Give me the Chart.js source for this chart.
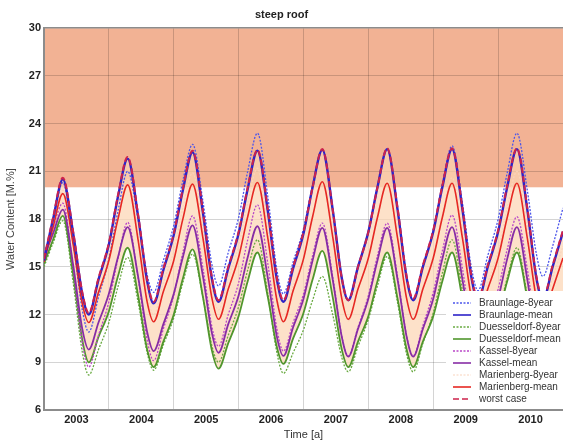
<!DOCTYPE html>
<html>
<head>
<meta charset="utf-8">
<script src="https://cdn.jsdelivr.net/npm/chart.js@4.4.1/dist/chart.umd.min.js"></script>
<style>
  html, body { margin: 0; padding: 0; background: #fff; }
</style>
</head>
<body>
<canvas id="myChart" width="563" height="444"></canvas>
<script>
// time axis in decimal years
var times = [
  2003.00, 2003.14, 2003.29, 2003.45, 2003.59, 2003.69, 2003.84,
  2004.00, 2004.14, 2004.29, 2004.45, 2004.59, 2004.69, 2004.84,
  2005.00, 2005.14, 2005.29, 2005.45, 2005.59, 2005.69, 2005.84,
  2006.00, 2006.14, 2006.29, 2006.45, 2006.59, 2006.69, 2006.84,
  2007.00, 2007.14, 2007.29, 2007.45, 2007.59, 2007.69, 2007.84,
  2008.00, 2008.14, 2008.29, 2008.45, 2008.59, 2008.69, 2008.84,
  2009.00, 2009.14, 2009.29, 2009.45, 2009.59, 2009.69, 2009.84,
  2010.00, 2010.14, 2010.29, 2010.45, 2010.59, 2010.69, 2010.84,
  2011.00
];

var braunlage8 = [
  15.5, 17.9, 20.3, 16.5, 12.3, 10.9, 13.1,
  15.5, 18.5, 21.0, 18.0, 14.5, 13.4, 15.4,
  17.6, 20.4, 22.7, 19.1, 15.1, 13.8, 15.9,
  18.1, 21.0, 23.4, 19.4, 14.8, 13.3, 15.3,
  17.4, 20.1, 22.35, 18.6, 14.3, 12.9, 15.0,
  17.2, 20.0, 22.4, 18.6, 14.3, 12.9, 15.0,
  17.3, 20.2, 22.6, 19.0, 14.9, 13.5, 15.7,
  18.0, 20.9, 23.4, 19.8, 15.8, 14.4, 16.3,
  18.7
];
var braunlageMean = [
  15.4, 18.0, 20.5, 17.1, 13.3, 12.0, 14.2,
  16.4, 19.4, 21.8, 18.2, 14.1, 12.7, 14.8,
  17.0, 19.8, 22.2, 18.4, 14.2, 12.8, 14.9,
  17.1, 19.9, 22.3, 18.5, 14.2, 12.8, 14.9,
  17.1, 20.0, 22.35, 18.6, 14.3, 12.9, 15.0,
  17.2, 20.0, 22.4, 18.6, 14.3, 12.9, 15.0,
  17.2, 20.0, 22.4, 18.6, 14.3, 12.9, 15.0,
  17.2, 20.0, 22.4, 18.6, 14.3, 12.9, 15.0,
  17.2
];
var duesseldorf8 = [
  15.0, 16.5, 17.9, 14.0, 9.65, 8.2, 9.8,
  11.5, 13.75, 15.6, 12.8, 9.6, 8.5, 10.1,
  11.8, 14.0, 15.8, 13.1, 10.0, 9.0, 10.7,
  12.5, 14.8, 16.7, 13.3, 9.6, 8.3, 9.6,
  11.05, 12.9, 14.4, 12.0, 9.3, 8.4, 10.0,
  11.7, 13.8, 15.65, 12.75, 9.5, 8.4, 10.2,
  12.1, 14.6, 16.7, 13.5, 9.8, 8.6, 10.3,
  12.0, 14.3, 16.2, 13.2, 9.9, 8.8, 10.4,
  12.0
];
var duesseldorfMean = [
  15.2, 16.7, 18.2, 14.5, 10.4, 9.0, 10.6,
  12.2, 14.4, 16.2, 13.2, 9.8, 8.7, 10.3,
  12.0, 14.25, 16.1, 13.1, 9.7, 8.6, 10.2,
  11.9, 14.1, 15.9, 13.1, 9.95, 8.9, 10.5,
  12.1, 14.2, 16.0, 13.1, 9.8, 8.7, 10.3,
  11.9, 14.1, 15.9, 13.0, 9.8, 8.7, 10.3,
  11.9, 14.1, 15.9, 13.0, 9.8, 8.7, 10.3,
  11.9, 14.1, 15.9, 13.0, 9.8, 8.7, 10.3,
  11.9
];
var kassel8 = [
  15.9, 17.5, 19.0, 14.9, 10.2, 8.7, 10.7,
  12.8, 15.5, 17.8, 14.3, 10.4, 9.1, 11.1,
  13.2, 15.9, 18.2, 14.9, 11.2, 10.0, 12.0,
  14.0, 16.7, 18.9, 15.2, 11.1, 9.7, 11.5,
  13.3, 15.7, 17.75, 14.4, 10.65, 9.4, 11.2,
  13.2, 15.7, 17.75, 14.4, 10.65, 9.4, 11.3,
  13.4, 16.0, 18.25, 14.9, 11.1, 9.8, 11.6,
  13.6, 16.1, 18.15, 14.85, 11.1, 9.9, 11.7,
  13.5
];
var kasselMean = [
  15.6, 17.1, 18.6, 15.1, 11.1, 9.8, 11.5,
  13.3, 15.6, 17.5, 14.4, 10.9, 9.7, 11.4,
  13.3, 15.6, 17.6, 14.4, 10.8, 9.6, 11.4,
  13.2, 15.6, 17.55, 14.3, 10.6, 9.4, 11.2,
  13.0, 15.4, 17.45, 14.2, 10.6, 9.35, 11.1,
  13.0, 15.4, 17.45, 14.2, 10.6, 9.35, 11.1,
  13.0, 15.5, 17.5, 14.2, 10.6, 9.35, 11.1,
  13.0, 15.5, 17.5, 14.2, 10.6, 9.35, 11.1,
  13.0
];
var marienberg8 = [
  15.3, 17.6, 19.8, 16.5, 12.5, 11.2, 13.2,
  15.4, 18.2, 20.5, 17.1, 13.3, 12.0, 14.0,
  16.0, 18.7, 20.9, 17.5, 13.6, 12.3, 14.3,
  16.3, 19.0, 21.2, 17.3, 13.3, 11.9, 13.8,
  15.6, 18.1, 20.2, 16.8, 12.9, 11.6, 13.6,
  15.6, 18.2, 20.4, 16.9, 13.0, 11.7, 13.7,
  15.7, 18.3, 20.6, 17.2, 13.3, 12.0, 14.0,
  16.0, 18.7, 21.0, 17.6, 13.8, 12.5, 14.3,
  16.3
];
var marienbergMean = [
  15.3, 17.5, 19.6, 16.4, 12.7, 11.5, 13.4,
  15.4, 18.0, 20.15, 16.7, 12.8, 11.55, 13.45,
  15.4, 18.0, 20.2, 16.8, 13.0, 11.7, 13.6,
  15.6, 18.15, 20.3, 16.8, 12.9, 11.55, 13.5,
  15.5, 18.15, 20.35, 16.9, 13.0, 11.7, 13.6,
  15.55, 18.1, 20.25, 16.8, 13.0, 11.7, 13.6,
  15.55, 18.1, 20.25, 16.8, 13.0, 11.7, 13.6,
  15.55, 18.1, 20.25, 16.8, 13.0, 11.7, 13.6,
  15.55
];
var worstCase = [
  15.5, 18.1, 20.6, 17.2, 13.4, 12.1, 14.3,
  16.5, 19.5, 21.9, 18.3, 14.2, 12.8, 14.9,
  17.1, 19.9, 22.3, 18.5, 14.3, 12.9, 15.0,
  17.2, 20.0, 22.35, 18.6, 14.3, 12.9, 15.0,
  17.2, 20.0, 22.4, 18.6, 14.3, 12.9, 15.0,
  17.2, 20.0, 22.45, 18.7, 14.4, 13.0, 15.1,
  17.3, 20.1, 22.45, 18.7, 14.4, 13.0, 15.1,
  17.3, 20.1, 22.45, 18.7, 14.4, 13.0, 15.1,
  17.3
];

var yearLabels = ['2003', '2004', '2005', '2006', '2007', '2008', '2009', '2010'];
var criticalLimit = 20;   // lower edge of the orange zone
var yMin = 6, yMax = 30, yStep = 3;
var xMin = 2003, xMax = 2011;

function pts(arr) {
  return times.map(function(t, i) { return {x: t, y: arr[i]}; });
}

Chart.defaults.font.family = '"Liberation Sans", Arial, sans-serif';
Chart.defaults.color = '#222';

// orange zone above the critical water content
var zonePlugin = {
  id: 'zone',
  beforeDraw: function(chart) {
    var ctx = chart.ctx, area = chart.chartArea, y = chart.scales.y;
    var top = y.getPixelForValue(yMax), bottom = y.getPixelForValue(criticalLimit);
    ctx.save();
    ctx.fillStyle = 'rgb(242,178,148)';
    ctx.fillRect(area.left, top, area.right - area.left, bottom - top);
    ctx.restore();
  }
};

// opaque legend box in the lower right corner
var boxLegend = {
  id: 'boxLegend',
  afterDatasetsDraw: function(chart) {
    var ctx = chart.ctx, area = chart.chartArea;
    var right = area.right;
    var left = right - 117, top = area.bottom - 119;
    ctx.save();
    ctx.fillStyle = '#fff';
    ctx.fillRect(left, top, right - left, area.bottom - top - 1);
    ctx.font = '10px "Liberation Sans", Arial, sans-serif';
    ctx.textBaseline = 'middle';
    chart.data.datasets.forEach(function(ds, i) {
      var yy = top + 12 + i * 12;
      ctx.beginPath();
      ctx.setLineDash(ds.borderDash || []);
      ctx.strokeStyle = ds.borderColor;
      ctx.lineWidth = Math.min(ds.borderWidth, 1.6);
      ctx.moveTo(left + 7, yy);
      ctx.lineTo(left + 25, yy);
      ctx.stroke();
      ctx.setLineDash([]);
      ctx.fillStyle = '#333';
      ctx.fillText(ds.label, left + 33, yy);
    });
    ctx.restore();
  }
};

var ctx = document.getElementById('myChart').getContext('2d');
var myChart = new Chart(ctx, {
  type: 'line',
  data: {
    datasets: [{
      label: 'Braunlage-8year',
      data: pts(braunlage8),
      borderColor: 'rgb(75,85,235)',
      borderWidth: 1.3,
      borderDash: [2, 1.5],
      order: 3
    }, {
      label: 'Braunlage-mean',
      data: pts(braunlageMean),
      borderColor: 'rgb(45,35,200)',
      borderWidth: 2.4,
      order: 1
    }, {
      label: 'Duesseldorf-8year',
      data: pts(duesseldorf8),
      borderColor: 'rgb(105,170,65)',
      borderWidth: 1.3,
      borderDash: [2, 1.5],
      order: 7
    }, {
      label: 'Duesseldorf-mean',
      data: pts(duesseldorfMean),
      borderColor: 'rgb(80,150,45)',
      borderWidth: 1.8,
      order: 6
    }, {
      label: 'Kassel-8year',
      data: pts(kassel8),
      borderColor: 'rgb(185,70,200)',
      borderWidth: 1.3,
      borderDash: [2, 1.5],
      order: 5
    }, {
      label: 'Kassel-mean',
      data: pts(kasselMean),
      borderColor: 'rgb(135,45,165)',
      borderWidth: 1.8,
      order: 4
    }, {
      label: 'Marienberg-8year',
      data: pts(marienberg8),
      borderColor: 'rgb(250,212,188)',
      borderWidth: 1.2,
      borderDash: [2, 1.5],
      order: 8
    }, {
      label: 'Marienberg-mean',
      data: pts(marienbergMean),
      borderColor: 'rgb(230,40,35)',
      borderWidth: 1.6,
      order: 2
    }, {
      label: 'worst case',
      data: pts(worstCase),
      borderColor: 'rgb(205,35,75)',
      borderWidth: 2,
      borderDash: [6, 3],
      fill: 3,
      backgroundColor: 'rgba(252,212,178,0.7)',
      order: 0
    }]
  },
  options: {
    responsive: false,
    animation: false,
    devicePixelRatio: 1,
    layout: { padding: 0 },
    elements: {
      point: { radius: 0 },
      line: { cubicInterpolationMode: 'monotone' }
    },
    plugins: {
      legend: { display: false },
      tooltip: { enabled: false },
      filler: { drawTime: 'beforeDatasetsDraw' },
      title: {
        display: true,
        text: 'steep roof',
        font: { size: 11, weight: 'bold' },
        padding: { top: 8, bottom: 7 }
      }
    },
    scales: {
      x: {
        type: 'linear',
        min: xMin,
        max: xMax,
        afterFit: function(scale) {
          scale.height = 34;
          scale.paddingRight = 0;
          scale.paddingLeft = 0;
        },
        ticks: {
          stepSize: 0.5,
          autoSkip: false,
          maxRotation: 0,
          padding: 3,
          font: { size: 11, weight: 'bold' },
          callback: function(value) {
            var idx = value - 2003.5;
            return Number.isInteger(idx) ? yearLabels[idx] : '';
          }
        },
        grid: {
          drawTicks: false,
          color: function(c) {
            var v = c.tick.value;
            return (Number.isInteger(v) && v < xMax) ? 'rgba(0,0,0,0.17)' : 'rgba(0,0,0,0)';
          }
        },
        border: { color: '#8c8c8c', width: 2 },
        title: {
          display: true,
          text: 'Time [a]',
          font: { size: 11 },
          color: '#333',
          padding: { top: 0, bottom: 2 }
        }
      },
      y: {
        min: yMin,
        max: yMax,
        afterFit: function(scale) { scale.width = 44; },
        ticks: {
          stepSize: yStep,
          padding: 3,
          font: { size: 11, weight: 'bold' }
        },
        grid: {
          drawTicks: false,
          color: function(c) {
            return c.tick.value === yMax ? '#8c8c8c' : 'rgba(0,0,0,0.17)';
          },
          lineWidth: function(c) {
            return c.tick.value === yMax ? 1.5 : 1;
          }
        },
        border: { color: '#8c8c8c', width: 2 },
        title: {
          display: true,
          text: 'Water Content [M.%]',
          font: { size: 11 },
          color: '#444',
          padding: { top: 4, bottom: 4 }
        }
      }
    }
  },
  plugins: [zonePlugin, boxLegend]
});
</script>
</body>
</html>
